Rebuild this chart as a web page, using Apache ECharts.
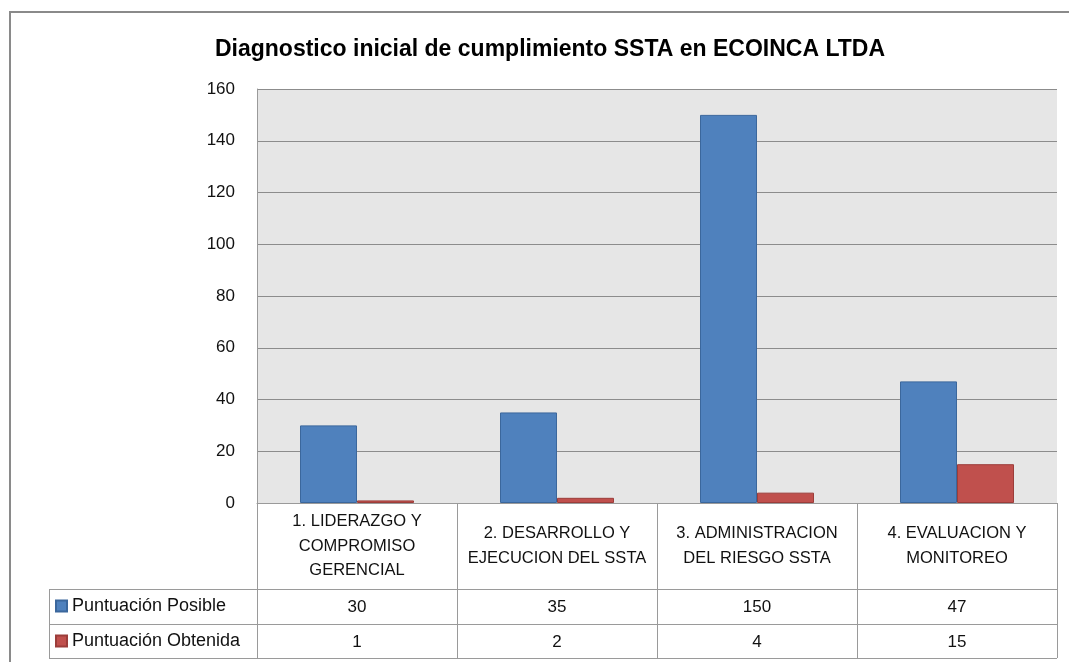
<!DOCTYPE html>
<html>
<head>
<meta charset="utf-8">
<script src="https://cdn.jsdelivr.net/npm/echarts@6/dist/echarts.min.js"></script>
<style>
  html, body { margin: 0; padding: 0; background: #fff; }
  #chart { width: 1069px; height: 662px; }
</style>
</head>
<body>
<div id="chart"></div>
<script>
const categories = [
  '1. LIDERAZGO Y\nCOMPROMISO\nGERENCIAL',
  '2. DESARROLLO Y\nEJECUCION DEL SSTA',
  '3. ADMINISTRACION\nDEL RIESGO SSTA',
  '4. EVALUACION Y\nMONITOREO'
];
const seriesNames = ['Puntuación Posible', 'Puntuación Obtenida'];
const possible = [30, 35, 150, 47];
const obtained = [1, 2, 4, 15];

const font = 'Liberation Sans, Arial, sans-serif';
const lineColor = '#9a9a9a';

// plot area geometry (pixels)
const gl = 257, gt = 89, gw = 800, gh = 414;
const rowTop = 589, rowMid = 624, rowBot = 658, tableLeft = 49;

const chart = echarts.init(document.getElementById('chart'));

const lines = [];
const hLine = (x1, x2, y) => lines.push({ type: 'line', silent: true, shape: { x1, y1: y, x2, y2: y }, style: { stroke: lineColor, lineWidth: 1 } });
const vLine = (x, y1, y2) => lines.push({ type: 'line', silent: true, shape: { x1: x, y1, x2: x, y2 }, style: { stroke: lineColor, lineWidth: 1 } });

[rowTop, rowMid, rowBot].forEach(y => hLine(tableLeft, gl + gw, y + 0.5));
vLine(tableLeft + 0.5, rowTop, rowBot);
for (let i = 0; i <= categories.length; i++) {
  vLine(gl + (gw / categories.length) * i + 0.5, gt + gh, rowBot);
}

const valueAxis = (vals, margin) => ({
  type: 'category',
  gridIndex: 0,
  position: 'bottom',
  data: categories,
  axisLine: { show: false },
  axisTick: { show: false },
  axisLabel: {
    interval: 0,
    margin,
    verticalAlign: 'middle',
    fontFamily: font,
    fontSize: 17,
    color: '#111',
    formatter: (v, i) => String(vals[i])
  }
});

chart.setOption({
  backgroundColor: '#fff',
  animation: false,
  title: {
    text: 'Diagnostico inicial de cumplimiento SSTA en ECOINCA LTDA',
    left: 545,
    textAlign: 'center',
    top: 33,
    textStyle: { fontFamily: font, fontSize: 23, fontWeight: 'bold', color: '#000' }
  },
  legend: {
    orient: 'vertical',
    left: 55,
    top: 597,
    padding: 0,
    itemGap: 17,
    itemWidth: 11,
    itemHeight: 11,
    icon: 'rect',
    data: seriesNames,
    textStyle: { fontFamily: font, fontSize: 18, color: '#111' }
  },
  grid: {
    left: gl, top: gt, width: gw, height: gh,
    show: true,
    backgroundColor: '#e6e6e6',
    borderColor: '#e6e6e6',
    borderWidth: 0
  },
  xAxis: [
    {
      type: 'category',
      data: categories,
      axisLine: { lineStyle: { color: lineColor } },
      axisTick: { show: false },
      axisLabel: {
        interval: 0,
        margin: 43,
        verticalAlign: 'middle',
        align: 'center',
        lineHeight: 24.5,
        fontFamily: font,
        fontSize: 16.5,
        color: '#111'
      }
    },
    valueAxis(possible, 104),
    valueAxis(obtained, 139)
  ],
  yAxis: {
    type: 'value',
    min: 0,
    max: 160,
    interval: 20,
    axisLine: { show: true, lineStyle: { color: lineColor } },
    axisTick: { show: false },
    axisLabel: { margin: 22, fontFamily: font, fontSize: 17, color: '#111' },
    splitLine: { lineStyle: { color: '#8c8c8c', width: 1 } }
  },
  series: [
    {
      name: seriesNames[0],
      type: 'bar',
      data: possible,
      barWidth: '28.5%',
      barGap: '0%',
      itemStyle: { color: '#4f81bd', borderColor: '#3b679c', borderWidth: 1 }
    },
    {
      name: seriesNames[1],
      type: 'bar',
      data: obtained,
      barWidth: '28.5%',
      itemStyle: { color: '#c0504d', borderColor: '#9c3d3a', borderWidth: 1 }
    }
  ],
  graphic: [
    {
      type: 'rect',
      silent: true,
      shape: { x: 10, y: 12, width: 1100, height: 700 },
      style: { fill: 'none', stroke: '#8a8a8a', lineWidth: 2 },
      z: 100
    },
    ...lines
  ]
});
</script>
</body>
</html>
